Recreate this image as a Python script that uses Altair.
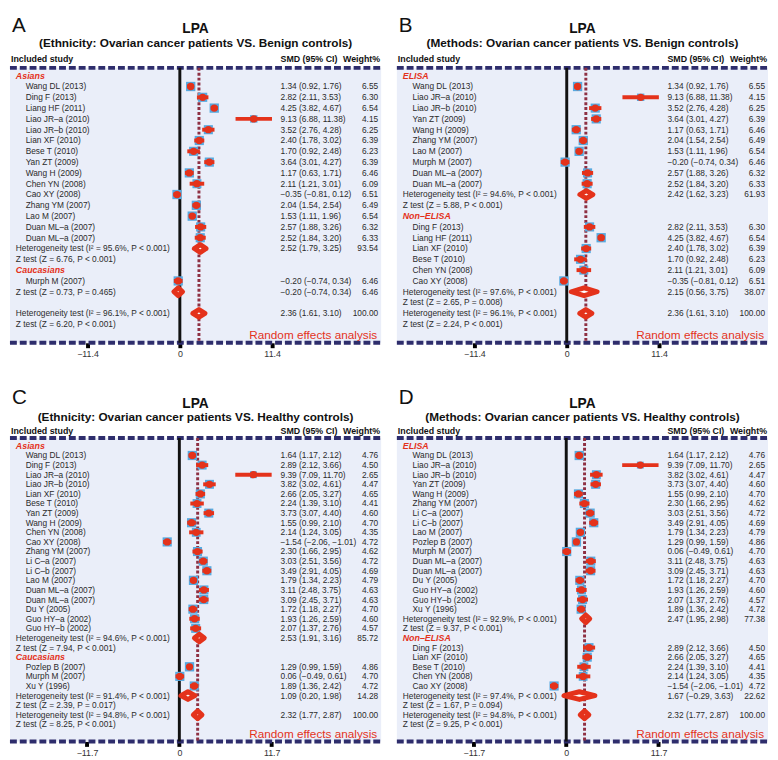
import altair as alt
import pandas as pd

FONT = "Liberation Sans"
RED = "#e4321b"
BLUE = "#57a9df"
NAVY = "#2e2d6c"
MAROON = "#8e3043"
BG = "#eaeef9"
TXT = "#2b2b2b"

# ---------------- Panel A : Ethnicity, benign controls ----------------
A_asian_names = ["Wang DL (2013)", "Ding F (2013)", "Liang HF (2011)", "Liao JR–a (2010)", "Liao JR–b (2010)",
                 "Lian XF (2010)", "Bese T (2010)", "Yan ZT (2009)", "Wang H (2009)", "Chen YN (2008)",
                 "Cao XY (2008)", "Zhang YM (2007)", "Lao M (2007)", "Duan ML–a (2007)", "Duan ML–a (2007)"]
A_asian_smd = [1.34, 2.82, 4.25, 9.13, 3.52, 2.40, 1.70, 3.64, 1.17, 2.11, -0.35, 2.04, 1.53, 2.57, 2.52]
A_asian_lo = [0.92, 2.11, 3.82, 6.88, 2.76, 1.78, 0.92, 3.01, 0.63, 1.21, -0.81, 1.54, 1.11, 1.88, 1.84]
A_asian_hi = [1.76, 3.53, 4.67, 11.38, 4.28, 3.02, 2.48, 4.27, 1.71, 3.01, 0.12, 2.54, 1.96, 3.26, 3.20]
A_asian_w = [6.55, 6.30, 6.54, 4.15, 6.25, 6.39, 6.23, 6.39, 6.46, 6.09, 6.51, 6.49, 6.54, 6.32, 6.33]
A_asian_pool = [2.52, 1.79, 3.25, 93.54]
A_cauc_names = ["Murph M (2007)"]
A_cauc_smd = [-0.20]
A_cauc_lo = [-0.74]
A_cauc_hi = [0.34]
A_cauc_w = [6.46]
A_cauc_pool = [-0.20, -0.74, 0.34, 6.46]
A_overall = [2.36, 1.61, 3.10, 100.00]
A_het = ["Heterogeneity test (I² = 95.6%, P < 0.001)", None, "Heterogeneity test (I² = 96.1%, P < 0.001)"]
A_z = ["Z test (Z = 6.76, P < 0.001)", "Z test (Z = 0.73, P = 0.465)", "Z test (Z = 6.20, P < 0.001)"]

# ---------------- Panel B : Methods, benign controls ----------------
B_elisa_names = ["Wang DL (2013)", "Liao JR–a (2010)", "Liao JR–b (2010)", "Yan ZT (2009)", "Wang H (2009)",
                 "Zhang YM (2007)", "Lao M (2007)", "Murph M (2007)", "Duan ML–a (2007)", "Duan ML–a (2007)"]
B_elisa_smd = [1.34, 9.13, 3.52, 3.64, 1.17, 2.04, 1.53, -0.20, 2.57, 2.52]
B_elisa_lo = [0.92, 6.88, 2.76, 3.01, 0.63, 1.54, 1.11, -0.74, 1.88, 1.84]
B_elisa_hi = [1.76, 11.38, 4.28, 4.27, 1.71, 2.54, 1.96, 0.34, 3.26, 3.20]
B_elisa_w = [6.55, 4.15, 6.25, 6.39, 6.46, 6.49, 6.54, 6.46, 6.32, 6.33]
B_elisa_pool = [2.42, 1.62, 3.23, 61.93]
B_non_names = ["Ding F (2013)", "Liang HF (2011)", "Lian XF (2010)", "Bese T (2010)", "Chen YN (2008)", "Cao XY (2008)"]
B_non_smd = [2.82, 4.25, 2.40, 1.70, 2.11, -0.35]
B_non_lo = [2.11, 3.82, 1.78, 0.92, 1.21, -0.81]
B_non_hi = [3.53, 4.67, 3.02, 2.48, 3.01, 0.12]
B_non_w = [6.30, 6.54, 6.39, 6.23, 6.09, 6.51]
B_non_pool = [2.15, 0.56, 3.75, 38.07]
B_overall = [2.36, 1.61, 3.10, 100.00]
B_het = ["Heterogeneity test (I² = 94.6%, P < 0.001)", "Heterogeneity test (I² = 97.6%, P < 0.001)",
         "Heterogeneity test (I² = 96.1%, P < 0.001)"]
B_z = ["Z test (Z = 5.88, P < 0.001)", "Z test (Z = 2.65, P = 0.008)", "Z test (Z = 2.24, P < 0.001)"]

# ---------------- Panel C : Ethnicity, healthy controls ----------------
C_asian_names = ["Wang DL (2013)", "Ding F (2013)", "Liao JR–a (2010)", "Liao JR–b (2010)", "Lian XF (2010)",
                 "Bese T (2010)", "Yan ZT (2009)", "Wang H (2009)", "Chen YN (2008)", "Cao XY (2008)",
                 "Zhang YM (2007)", "Li C–a (2007)", "Li C–b (2007)", "Lao M (2007)", "Duan ML–a (2007)",
                 "Duan ML–a (2007)", "Du Y (2005)", "Guo HY–a (2002)", "Guo HY–b (2002)"]
C_asian_smd = [1.64, 2.89, 9.39, 3.82, 2.66, 2.24, 3.73, 1.55, 2.14, -1.54, 2.30, 3.03, 3.49, 1.79, 3.11, 3.09, 1.72, 1.93, 2.07]
C_asian_lo = [1.17, 2.12, 7.09, 3.02, 2.05, 1.39, 3.07, 0.99, 1.24, -2.06, 1.66, 2.51, 2.91, 1.34, 2.48, 2.45, 1.18, 1.26, 1.37]
C_asian_hi = [2.12, 3.66, 11.70, 4.61, 3.27, 3.10, 4.40, 2.10, 3.05, -1.01, 2.95, 3.56, 4.05, 2.23, 3.75, 3.71, 2.27, 2.59, 2.76]
C_asian_w = [4.76, 4.50, 2.65, 4.47, 4.65, 4.41, 4.60, 4.70, 4.35, 4.72, 4.62, 4.72, 4.69, 4.79, 4.63, 4.63, 4.70, 4.60, 4.57]
C_asian_pool = [2.53, 1.91, 3.16, 85.72]
C_cauc_names = ["Pozlep B (2007)", "Murph M (2007)", "Xu Y (1996)"]
C_cauc_smd = [1.29, 0.06, 1.89]
C_cauc_lo = [0.99, -0.49, 1.36]
C_cauc_hi = [1.59, 0.61, 2.42]
C_cauc_w = [4.86, 4.70, 4.72]
C_cauc_pool = [1.09, 0.20, 1.98, 14.28]
C_overall = [2.32, 1.77, 2.87, 100.00]
C_het = ["Heterogeneity test (I² = 94.6%, P < 0.001)", "Heterogeneity test (I² = 91.4%, P < 0.001)",
         "Heterogeneity test (I² = 94.8%, P < 0.001)"]
C_z = ["Z test (Z = 7.94, P < 0.001)", "Z test (Z = 2.39, P = 0.017)", "Z test (Z = 8.25, P < 0.001)"]

# ---------------- Panel D : Methods, healthy controls ----------------
D_elisa_names = ["Wang DL (2013)", "Liao JR–a (2010)", "Liao JR–b (2010)", "Yan ZT (2009)", "Wang H (2009)",
                 "Zhang YM (2007)", "Li C–a (2007)", "Li C–b (2007)", "Lao M (2007)", "Pozlep B (2007)",
                 "Murph M (2007)", "Duan ML–a (2007)", "Duan ML–a (2007)", "Du Y (2005)", "Guo HY–a (2002)",
                 "Guo HY–b (2002)", "Xu Y (1996)"]
D_elisa_smd = [1.64, 9.39, 3.82, 3.73, 1.55, 2.30, 3.03, 3.49, 1.79, 1.29, 0.06, 3.11, 3.09, 1.72, 1.93, 2.07, 1.89]
D_elisa_lo = [1.17, 7.09, 3.02, 3.07, 0.99, 1.66, 2.51, 2.91, 1.34, 0.99, -0.49, 2.48, 2.45, 1.18, 1.26, 1.37, 1.36]
D_elisa_hi = [2.12, 11.70, 4.61, 4.40, 2.10, 2.95, 3.56, 4.05, 2.23, 1.59, 0.61, 3.75, 3.71, 2.27, 2.59, 2.76, 2.42]
D_elisa_w = [4.76, 2.65, 4.47, 4.60, 4.70, 4.62, 4.72, 4.69, 4.79, 4.86, 4.70, 4.63, 4.63, 4.70, 4.60, 4.57, 4.72]
D_elisa_pool = [2.47, 1.95, 2.98, 77.38]
D_non_names = ["Ding F (2013)", "Lian XF (2010)", "Bese T (2010)", "Chen YN (2008)", "Cao XY (2008)"]
D_non_smd = [2.89, 2.66, 2.24, 2.14, -1.54]
D_non_lo = [2.12, 2.05, 1.39, 1.24, -2.06]
D_non_hi = [3.66, 3.27, 3.10, 3.05, -1.01]
D_non_w = [4.50, 4.65, 4.41, 4.35, 4.72]
D_non_pool = [1.67, -0.29, 3.63, 22.62]
D_overall = [2.32, 1.77, 2.87, 100.00]
D_het = ["Heterogeneity test (I² = 92.9%, P < 0.001)", "Heterogeneity test (I² = 97.4%, P < 0.001)",
         "Heterogeneity test (I² = 94.8%, P < 0.001)"]
D_z = ["Z test (Z = 9.37, P < 0.001)", "Z test (Z = 1.67, P = 0.094)", "Z test (Z = 9.25, P < 0.001)"]

W = 378
TOP = dict(H=334, line_top=54, r0=62, pitch=11.0, nrows=24, letter_y=17, title_y=15, sub_y=29, head_y=45, dh=0.36)
BOT = dict(H=367, line_top=58, r0=66, pitch=9.78, nrows=30, letter_y=23, title_y=23, sub_y=37, head_y=51, dh=0.4)


def num(v):
    return f"{v:.2f}".replace("-", "−")


def build(groups, overall, het, z):
    sec, stu, lab, val, dia = [], [], [], [], []
    r = 0

    def add_pool(p, row, key):
        val.append({"row": row, "ci": f"{num(p[0])} ({num(p[1])}, {num(p[2])})", "wt": f"{p[3]:.2f}"})
        for xx, k in ((p[1], 0), (p[0], 1), (p[2], 0)):
            dia.append({"id": key, "x": xx, "row": row, "k": k})

    for gi, (gname, names, smd, lo, hi, w, pool) in enumerate(groups):
        sec.append({"row": r, "label": gname})
        r += 1
        for n, e, l, h, ww in zip(names, smd, lo, hi, w):
            stu.append({"row": r, "name": n, "smd": e, "lo": l, "hi": h, "w": ww})
            val.append({"row": r, "ci": f"{num(e)} ({num(l)}, {num(h)})", "wt": f"{ww:.2f}"})
            r += 1
        if het[gi]:
            lab.append({"row": r, "text": het[gi]})
            add_pool(pool, r, f"g{gi}")
            r += 1
            lab.append({"row": r, "text": z[gi]})
            r += 1
        else:
            lab.append({"row": r, "text": z[gi]})
            add_pool(pool, r, f"g{gi}")
            r += 2
    lab.append({"row": r, "text": het[-1]})
    add_pool(overall, r, "all")
    r += 1
    lab.append({"row": r, "text": z[-1]})
    r += 1
    return (pd.DataFrame(sec), pd.DataFrame(stu), pd.DataFrame(lab), pd.DataFrame(val),
            pd.DataFrame(dia), r)


def make_panel(letter, subtitle, groups, overall, het, z, tick, L):
    sec, stu, lab, val, dia, rand_row = build(groups, overall, het, z)
    dia["y1"] = dia["row"] - L["dh"] * dia["k"]
    dia["y2"] = dia["row"] + L["dh"] * dia["k"]
    px_per = 94.0 / tick
    zero_px = 173.0 if tick < 11.5 else 172.5
    xscale = alt.Scale(domain=[-zero_px / px_per, (W - zero_px) / px_per], nice=False, zero=False)
    yscale = alt.Scale(domain=[0, L["nrows"]], range=[L["r0"], L["r0"] + L["pitch"] * L["nrows"]],
                       nice=False, zero=False)
    xaxis = alt.Axis(values=[-tick, 0, tick], domain=False, grid=False, tickSize=5, tickWidth=4,
                     tickColor="black", labelFont=FONT, labelFontSize=9, labelColor="#333",
                     labelPadding=2, title=None,
                     labelExpr="datum.value == 0 ? '0' : replace(format(datum.value, '.1f'), '-', '−')")

    def X(f):
        return alt.X(f, type="quantitative", scale=xscale, axis=xaxis, title=None)

    def Y(f):
        return alt.Y(f, type="quantitative", scale=yscale, axis=None, title=None)

    one = pd.DataFrame({"k": [0]})
    maxw = max(stu["w"])

    bg = alt.Chart(one).mark_rect(color=BG).encode(
        x=alt.value(0), x2=alt.value(W), y=alt.value(L["line_top"]), y2=alt.value(L["H"]))
    top_line = alt.Chart(one).mark_rule(color=NAVY, strokeWidth=4, strokeDash=[7, 3]).encode(
        x=alt.value(0), x2=alt.value(W), y=alt.value(L["line_top"]))
    bot_line = alt.Chart(one).mark_rule(color=NAVY, strokeWidth=4, strokeDash=[7, 3]).encode(
        x=alt.value(0), x2=alt.value(W), y=alt.value(L["H"]))
    zero = alt.Chart(pd.DataFrame({"x": [0.0]})).mark_rule(color="#111", strokeWidth=3).encode(
        x=X("x"), y=alt.value(L["line_top"]), y2=alt.value(L["H"]))
    pooled_line = alt.Chart(pd.DataFrame({"x": [overall[0]]})).mark_rule(
        color=MAROON, strokeWidth=3, strokeDash=[3, 2]).encode(
        x=X("x"), y=alt.value(L["line_top"]), y2=alt.value(L["H"]))

    squares = alt.Chart(stu).mark_square(filled=True, color=BLUE, opacity=1).encode(
        x=X("smd"), y=Y("row"),
        size=alt.Size("w:Q", scale=alt.Scale(domain=[0, maxw], range=[0, 90]), legend=None))
    ci = alt.Chart(stu).mark_rule(color=RED, strokeWidth=4).encode(x=X("lo"), x2="hi", y=Y("row"))
    dots = alt.Chart(stu).mark_circle(size=55, color=RED, opacity=1).encode(x=X("smd"), y=Y("row"))
    diamonds = alt.Chart(dia).mark_area(orient="vertical", fill="white", stroke=RED, strokeWidth=5,
                                        strokeJoin="round", opacity=1).encode(
        x=X("x"), y=Y("y1"), y2="y2", detail="id:N")

    base_txt = dict(font=FONT, baseline="middle")
    sec_t = alt.Chart(sec).mark_text(align="left", fontSize=9, fontWeight="bold", fontStyle="italic",
                                     color=RED, **base_txt).encode(x=alt.value(6), y=Y("row"), text="label:N")
    name_t = alt.Chart(stu).mark_text(align="left", fontSize=8.5, color=TXT, **base_txt).encode(
        x=alt.value(16), y=Y("row"), text="name:N")
    lab_t = alt.Chart(lab).mark_text(align="left", fontSize=8.5, color=TXT, **base_txt).encode(
        x=alt.value(6), y=Y("row"), text="text:N")
    ci_t = alt.Chart(val).mark_text(align="left", fontSize=8.5, color=TXT, **base_txt).encode(
        x=alt.value(275.5), y=Y("row"), text="ci:N")
    wt_t = alt.Chart(val).mark_text(align="right", fontSize=8.5, color=TXT, **base_txt).encode(
        x=alt.value(375), y=Y("row"), text="wt:N")
    rand_t = alt.Chart(pd.DataFrame({"row": [rand_row], "t": ["Random effects analysis"]})).mark_text(
        align="right", fontSize=12, color=RED, **base_txt).encode(x=alt.value(374), y=Y("row"), text="t:N")

    head = dict(font=FONT, baseline="middle", fontSize=9, fontWeight="bold", color="#111")
    h1 = alt.Chart(one).mark_text(text="Included study", align="left", **head).encode(
        x=alt.value(1), y=alt.value(L["head_y"]))
    h2 = alt.Chart(one).mark_text(text="SMD (95% CI)", align="left", **head).encode(
        x=alt.value(275.5), y=alt.value(L["head_y"]))
    h3 = alt.Chart(one).mark_text(text="Weight%", align="right", **head).encode(
        x=alt.value(377), y=alt.value(L["head_y"]))
    t1 = alt.Chart(one).mark_text(text="LPA", align="center", font=FONT, fontSize=14, fontWeight="bold",
                                  baseline="middle", color="#111").encode(
        x=alt.value(189), y=alt.value(L["title_y"]))
    t2 = alt.Chart(one).mark_text(text=subtitle, align="center", font=FONT, fontSize=12, fontWeight="bold",
                                  baseline="middle", color="#111").encode(
        x=alt.value(189), y=alt.value(L["sub_y"]))
    lt = alt.Chart(one).mark_text(text=letter, align="left", font=FONT, fontSize=21,
                                  baseline="alphabetic", color="#111").encode(
        x=alt.value(2), y=alt.value(L["letter_y"]))

    return alt.layer(bg, top_line, bot_line, zero, pooled_line, squares, ci, dots, diamonds,
                     sec_t, name_t, lab_t, ci_t, wt_t, rand_t, h1, h2, h3, t1, t2, lt).properties(
        width=W, height=L["H"]).resolve_scale(size="independent")


pA = make_panel("A", "(Ethnicity: Ovarian cancer patients VS. Benign controls)",
                [("Asians", A_asian_names, A_asian_smd, A_asian_lo, A_asian_hi, A_asian_w, A_asian_pool),
                 ("Caucasians", A_cauc_names, A_cauc_smd, A_cauc_lo, A_cauc_hi, A_cauc_w, A_cauc_pool)],
                A_overall, A_het, A_z, 11.4, TOP)
pB = make_panel("B", "(Methods: Ovarian cancer patients VS. Benign controls)",
                [("ELISA", B_elisa_names, B_elisa_smd, B_elisa_lo, B_elisa_hi, B_elisa_w, B_elisa_pool),
                 ("Non–ELISA", B_non_names, B_non_smd, B_non_lo, B_non_hi, B_non_w, B_non_pool)],
                B_overall, B_het, B_z, 11.4, TOP)
pC = make_panel("C", "(Ethnicity: Ovarian cancer patients VS. Healthy controls)",
                [("Asians", C_asian_names, C_asian_smd, C_asian_lo, C_asian_hi, C_asian_w, C_asian_pool),
                 ("Caucasians", C_cauc_names, C_cauc_smd, C_cauc_lo, C_cauc_hi, C_cauc_w, C_cauc_pool)],
                C_overall, C_het, C_z, 11.7, BOT)
pD = make_panel("D", "(Methods: Ovarian cancer patients VS. Healthy controls)",
                [("ELISA", D_elisa_names, D_elisa_smd, D_elisa_lo, D_elisa_hi, D_elisa_w, D_elisa_pool),
                 ("Non–ELISA", D_non_names, D_non_smd, D_non_lo, D_non_hi, D_non_w, D_non_pool)],
                D_overall, D_het, D_z, 11.7, BOT)

row1 = alt.hconcat(pA, pB, spacing=12).resolve_scale(x="independent", y="independent", size="independent")
row2 = alt.hconcat(pC, pD, spacing=12).resolve_scale(x="independent", y="independent", size="independent")
chart = alt.vconcat(row1, row2, spacing=23).resolve_scale(
    x="independent", y="independent", size="independent").properties(
    padding=0, background="white").configure_view(stroke=None)

chart.save("out.html", embed_options={"renderer": "svg", "actions": False})
